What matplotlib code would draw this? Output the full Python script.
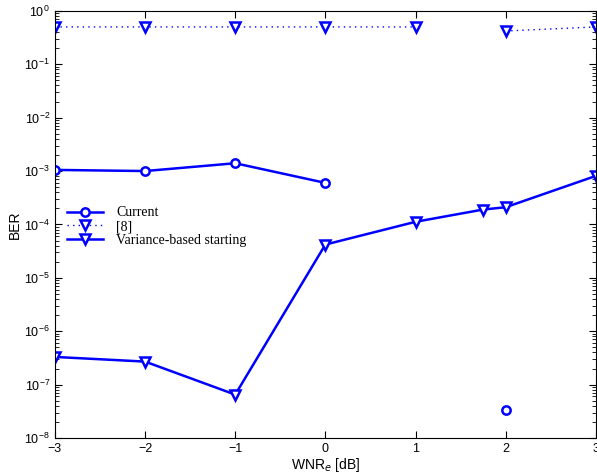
import numpy as np
import matplotlib
matplotlib.use("Agg")
import matplotlib.pyplot as plt

# WNR_e grid (dB); nan = no value at that point
wnr = [-3, -2, -1, 0, 1, 1.75, 2, 3]
ber_current = [1.05e-3, 1.0e-3, 1.4e-3, 6.0e-4, np.nan, np.nan, 3.4e-8, np.nan]
ber_ref8 = [0.5, 0.5, 0.5, 0.5, 0.5, np.nan, 0.42, 0.5]
ber_variance = [3.3e-7, 2.7e-7, 6.5e-8, 4.2e-5, 1.12e-4, 1.9e-4, 2.1e-4, 8.1e-4]

labels = ["Current", "[8]", "Variance-based starting"]

plt.rcParams["font.family"] = ["Liberation Sans", "DejaVu Sans"]
fig = plt.figure(figsize=(5.97, 4.72), dpi=100)
ax = fig.add_axes([0.092, 0.072, 0.906, 0.905])

blue = "#0000ff"
ax.semilogy(wnr, ber_current, color=blue, lw=1.8, marker="o", ms=6,
            mfc="white", mec=blue, mew=1.8, label=labels[0])
ax.semilogy(wnr, ber_ref8, color=blue, lw=1.0, ls=(0, (1, 3)), marker="v", ms=7,
            mfc="white", mec=blue, mew=1.8, label=labels[1])
ax.semilogy(wnr, ber_variance, color=blue, lw=1.8, marker="v", ms=7,
            mfc="white", mec=blue, mew=1.8, label=labels[2])

ax.set_xlim(-3, 3)
ax.set_ylim(1e-8, 1)
ax.set_xticks([-3, -2, -1, 0, 1, 2, 3])
ax.set_xticklabels(["\u22123", "\u22122", "\u22121", "0", "1", "2", "3"])
ax.tick_params(which="both", direction="in", top=True, right=True, labelsize=9)
ax.tick_params(which="major", length=5)
ax.tick_params(which="minor", length=3)
ax.set_xlabel("WNR$_e$ [dB]", fontsize=10, labelpad=1)
ax.set_ylabel("BER", fontsize=10, labelpad=2)

ax.legend(loc="upper left", bbox_to_anchor=(0.005, 0.565), frameon=False,
          prop={"family": "Liberation Serif", "size": 10},
          handlelength=2.6, labelspacing=0.05, handletextpad=0.9, borderpad=0.2)

fig.savefig("out.png", dpi=100)
